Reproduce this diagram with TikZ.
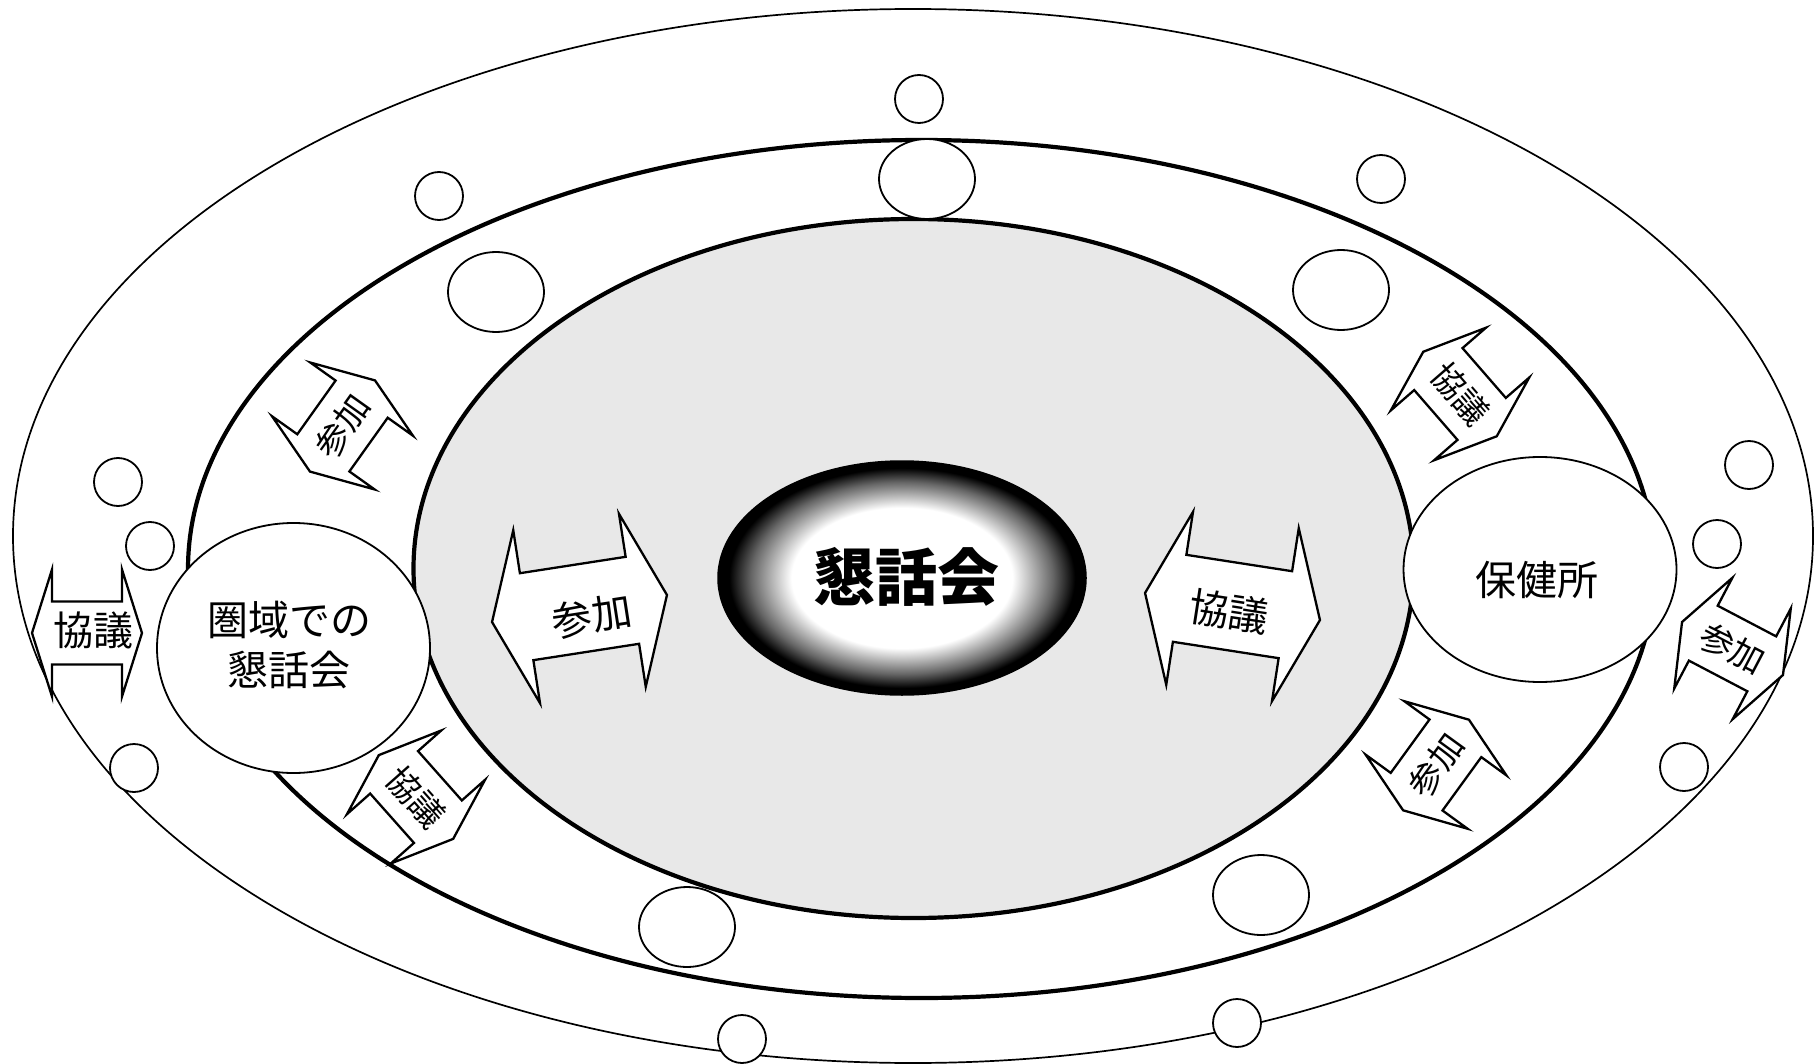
\documentclass[tikz,border=0pt]{standalone}
\usepackage{fontspec}
\newfontfamily\jp{Noto Sans CJK JP}
\usetikzlibrary{shapes.geometric}
\pgfdeclareradialshading{halo}{\pgfpoint{0bp}{0bp}}{color(0bp)=(white); color(15bp)=(white); color(20.5bp)=(black!60); color(23.5bp)=(black); color(50bp)=(black)}
\tikzset{
  oval/.style={ellipse, inner sep=0pt, outer sep=0pt},
  thinring/.style={oval, draw, line width=1.7pt},
  thickring/.style={oval, draw, line width=4.2pt},
  bubble/.style={oval, draw, fill=white, line width=1.8pt},
  smallbub/.style={bubble, minimum size=48pt},
  bigbub/.style={bubble, minimum width=96pt, minimum height=80pt},
  blockarrow/.style={draw, fill=white, line width=2.3pt, line join=miter},
  biglbl/.style={font=\jp\fontsize{40}{50}\selectfont, inner sep=0pt, align=center},
  smalllbl/.style={font=\jp\fontsize{34}{36}\selectfont, inner sep=0pt},
}
% #1 centre, #2 angle, #3 half length, #4 head length, #5 body half width, #6 head half width, #7 name
\newcommand\dblarrow[7]{%
  \begin{scope}[shift={#1}, rotate=#2]
    \draw[blockarrow] (-#3,0) -- (-#3+#4,#6) -- (-#3+#4,#5) -- (#3-#4,#5) -- (#3-#4,#6)
      -- (#3,0) -- (#3-#4,-#6) -- (#3-#4,-#5) -- (-#3+#4,-#5) -- (-#3+#4,-#6) -- cycle;
    \coordinate (#7) at (0,0);
  \end{scope}}
\begin{document}
\begin{tikzpicture}[x=1pt,y=-1pt]
\useasboundingbox (0,0) rectangle (1814,1064);
\fill[white] (0,0) rectangle (1814,1064);
% rings
\node[thinring, minimum width=1800pt, minimum height=1054pt] (outer) at (913,536) {};
\node[thickring, minimum width=1467pt, minimum height=858pt] (middle) at (921.5,569) {};
\node[thickring, fill=black!9, minimum width=1000pt, minimum height=699pt] (inner) at (913.5,568.5) {};
% core
\node[oval, draw, line width=1.5pt, shade, shading=halo, minimum width=368pt, minimum height=234pt] (core) at (902,578) {};
\node[font=\jp\bfseries\fontsize{62}{62}\selectfont, inner sep=0pt] (coretxt) at (906,577) {懇話会};
% small circles
\node[smallbub] (s1) at (919,99) {};
\node[smallbub] (s2) at (439,196) {};
\node[smallbub] (s3) at (1381,179) {};
\node[smallbub] (s4) at (118,482) {};
\node[smallbub] (s5) at (150,546) {};
\node[smallbub] (s6) at (1749,465) {};
\node[smallbub] (s7) at (1717,544) {};
\node[smallbub] (s8) at (134,768) {};
\node[smallbub] (s9) at (1684,767) {};
\node[smallbub] (s10) at (742,1039) {};
\node[smallbub] (s11) at (1237,1023) {};
% big circles
\node[bigbub] (b1) at (927,179) {};
\node[bigbub] (b2) at (496,292) {};
\node[bigbub] (b3) at (1341,290) {};
\node[bigbub] (b4) at (687,927) {};
\node[bigbub] (b5) at (1261,895) {};
% arrows
\dblarrow{(87,633)}{0}{55}{20}{31.5}{63.5}{a1}
\node[biglbl] (a1t) at (93,630) {協議};
\dblarrow{(342.5,426)}{54.5}{56}{23}{32}{63}{a2}
\node[smalllbl, rotate=54.5] (a2t) at (a2) {参加};
\dblarrow{(416,797)}{-48.4}{56}{23}{32}{63}{a3}
\node[smalllbl, rotate=-48.4] (a3t) at (a3) {協議};
\dblarrow{(1460,394)}{-49}{56}{23}{32}{63}{a4}
\node[smalllbl, rotate=-49] (a4t) at (a4) {協議};
\dblarrow{(1436,765)}{54}{56}{23}{32}{63}{a5}
\node[smalllbl, rotate=54] (a5t) at (a5) {参加};
\dblarrow{(1732.5,648.5)}{-27.7}{57}{24}{31}{62.5}{a6}
\node[smalllbl, rotate=-27.7] (a6t) at (a6) {参加};
\dblarrow{(579.5,608.5)}{8.8}{88.5}{35}{44}{87.5}{a7}
\node[biglbl, rotate=8.8] (a7t) at (592,616) {参加};
\dblarrow{(1232.5,606.5)}{-8.8}{88.5}{35}{44}{87.5}{a8}
\node[biglbl, rotate=-8.8] (a8t) at (1229,612) {協議};
% side ellipses
\node[bubble, minimum width=273pt, minimum height=250pt] (ken) at (293.5,648) {};
\node[biglbl, font=\jp\fontsize{41}{50}\selectfont] (kentxt) at (289,645) {圏域での\\懇話会};
\node[bubble, minimum width=273pt, minimum height=225pt] (hoken) at (1540,569.5) {};
\node[biglbl, font=\jp\fontsize{41}{50}\selectfont] (hokentxt) at (1537,580) {保健所};
\end{tikzpicture}
\end{document}
